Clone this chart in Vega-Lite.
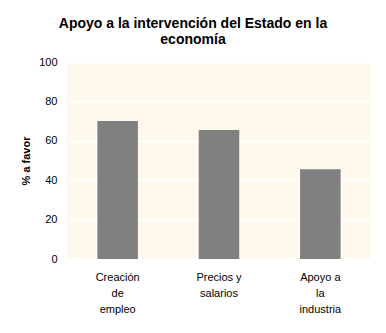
{
  "$schema": "https://vega.github.io/schema/vega-lite/v6.json",
  "autosize": {"type": "none"},
  "width": 304,
  "height": 197,
  "padding": {"left": 67, "top": 62, "right": 15, "bottom": 74},
  "background": "white",
  "title": {
    "text": ["Apoyo a la intervención del Estado en la", "economía"],
    "font": "Liberation Sans",
    "fontSize": 14,
    "fontWeight": "bold",
    "color": "black",
    "anchor": "middle",
    "frame": "group",
    "dx": -26,
    "offset": 9,
    "lineHeight": 16
  },
  "data": {
    "values": [
      {"categoria": "Creación de empleo", "favor": 70},
      {"categoria": "Precios y salarios", "favor": 65.5},
      {"categoria": "Apoyo a la industria", "favor": 45.5}
    ]
  },
  "mark": {"type": "bar", "color": "#808080"},
  "encoding": {
    "x": {
      "field": "categoria",
      "type": "nominal",
      "sort": null,
      "scale": {"paddingInner": 0.6, "paddingOuter": 0.3},
      "axis": {
        "title": null,
        "labelAngle": 0,
        "ticks": false,
        "domain": false,
        "labelPadding": 12,
        "labelLineHeight": 16,
        "labelFont": "Liberation Sans",
        "labelFontSize": 11,
        "labelColor": "black",
        "labelExpr": "datum.value == 'Creación de empleo' ? ['Creación','de','empleo'] : datum.value == 'Precios y salarios' ? ['Precios y','salarios'] : ['Apoyo a','la','industria']"
      }
    },
    "y": {
      "field": "favor",
      "type": "quantitative",
      "scale": {"domain": [0, 100]},
      "axis": {
        "title": "% a favor",
        "titleFont": "Liberation Sans",
        "titleFontSize": 11,
        "titleFontWeight": "bold",
        "titleColor": "black",
        "titlePadding": 7,
        "values": [0, 20, 40, 60, 80, 100],
        "labelFont": "Liberation Sans",
        "labelFontSize": 11,
        "labelColor": "black",
        "labelPadding": 10,
        "ticks": false,
        "domain": false,
        "grid": true,
        "gridColor": "white",
        "gridWidth": 2,
        "gridOpacity": 1
      }
    }
  },
  "config": {
    "view": {"fill": "#FFF9ED", "stroke": null}
  }
}
